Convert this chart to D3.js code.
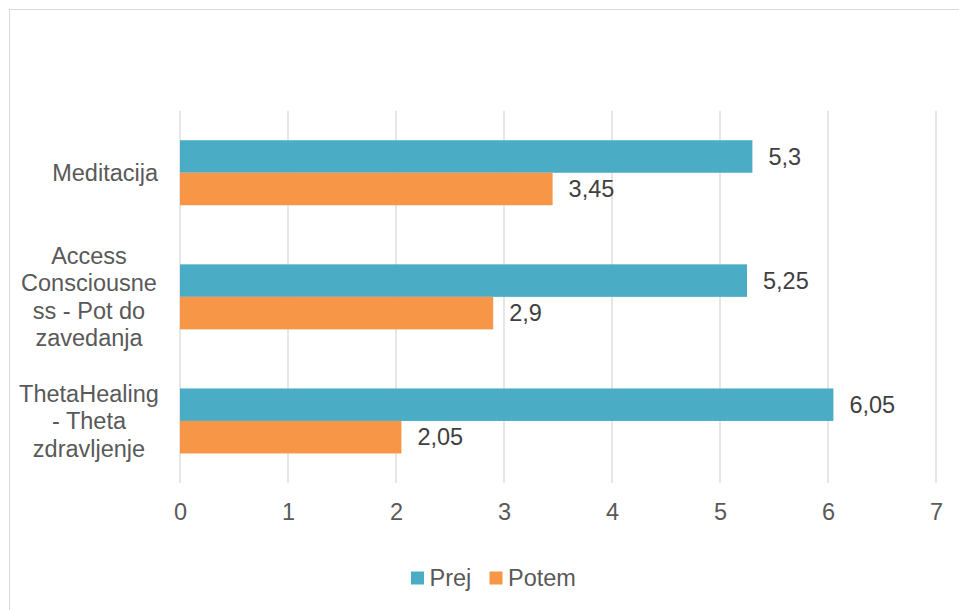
<!DOCTYPE html>
<html><head><meta charset="utf-8">
<script src="https://cdn.jsdelivr.net/npm/d3@7"></script>
<style>body{margin:0;background:#fff;}svg{display:block;font-family:"Liberation Sans",Arial,sans-serif;}</style>
</head><body>
<svg id="c" width="959" height="610"></svg>
<script>
const categories = ["Meditacija", "Access Consciousness - Pot do zavedanja", "ThetaHealing - Theta zdravljenje"];
const categoryLines = [["Meditacija"], ["Access", "Consciousne", "ss - Pot do", "zavedanja"], ["ThetaHealing", "- Theta", "zdravljenje"]];
const seriesNames = ["Prej", "Potem"];
const prej = [5.3, 5.25, 6.05];
const potem = [3.45, 2.9, 2.05];
const xTicks = [0, 1, 2, 3, 4, 5, 6, 7];
const colors = ["#4BACC6", "#F79646"];

const svg = d3.select("#c");
svg.append("rect").attr("x", 9.5).attr("y", 9.5).attr("width", 960).attr("height", 610)
  .attr("fill", "#fff").attr("stroke", "#d9d9d9").attr("stroke-width", 1);

const x = d3.scaleLinear().domain([0, 7]).range([180, 936]);
const y = d3.scaleBand().domain(categories).range([110.7, 483]).paddingInner(0.476).paddingOuter(0.238);
const ys = d3.scaleBand().domain(seriesNames).range([0, y.bandwidth()]);

// gridlines
svg.append("g").selectAll("line").data(xTicks).join("line")
  .attr("x1", d => x(d)).attr("x2", d => x(d)).attr("y1", 110.7).attr("y2", 483)
  .attr("stroke", "#d9d9d9").attr("stroke-width", 1.3);

// x axis labels
const xAxis = d3.axisBottom(x).tickValues(xTicks).tickSize(0).tickPadding(0).tickFormat(d => d);
const gx = svg.append("g").attr("transform", "translate(0,512)").call(xAxis);
gx.select(".domain").remove();
gx.selectAll("text").attr("dy", "0.35em").attr("font-size", 23.5).attr("fill", "#595959")
  .attr("font-family", "Liberation Sans, Arial, sans-serif");

// bars
const data = [];
categories.forEach((c, i) => {
  data.push({c, s: "Prej", v: prej[i], col: colors[0]});
  data.push({c, s: "Potem", v: potem[i], col: colors[1]});
});
svg.append("g").selectAll("rect").data(data).join("rect")
  .attr("x", x(0)).attr("y", d => y(d.c) + ys(d.s))
  .attr("width", d => x(d.v) - x(0)).attr("height", ys.bandwidth())
  .attr("fill", d => d.col);

// data labels
svg.append("g").selectAll("text").data(data).join("text")
  .attr("x", d => x(d.v) + 16).attr("y", d => y(d.c) + ys(d.s) + ys.bandwidth() / 2)
  .attr("dy", "0.35em").attr("font-size", 23.5).attr("fill", "#404040")
  .text(d => String(d.v).replace(".", ","));

// category labels
const lineH = 27.6;
categories.forEach((c, i) => {
  const lines = categoryLines[i];
  const cy = y(c) + y.bandwidth() / 2;
  const single = lines.length === 1;
  const t = svg.append("text").attr("font-size", 23.5).attr("fill", "#595959")
    .attr("text-anchor", single ? "end" : "middle");
  lines.forEach((ln, j) => {
    t.append("tspan").attr("x", single ? 158 : 89)
      .attr("y", cy + (j - (lines.length - 1) / 2) * lineH)
      .attr("dy", "0.35em").text(ln);
  });
});

// legend
const leg = [{n: seriesNames[0], col: colors[0], x: 411}, {n: seriesNames[1], col: colors[1], x: 489.5}];
const lg = svg.append("g");
leg.forEach(l => {
  lg.append("rect").attr("x", l.x).attr("y", 571.5).attr("width", 13).attr("height", 13).attr("fill", l.col);
  lg.append("text").attr("x", l.x + 18.5).attr("y", 578).attr("dy", "0.35em")
    .attr("font-size", 23.5).attr("fill", "#595959").text(l.n);
});
</script>
</body></html>
